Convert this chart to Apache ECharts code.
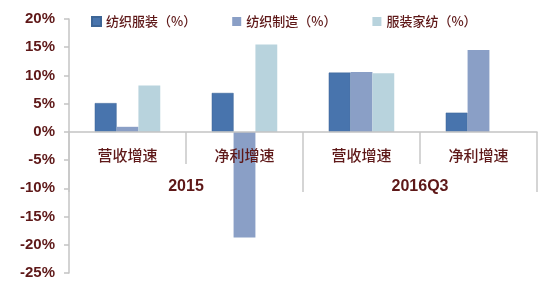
<!DOCTYPE html>
<html>
<head>
<meta charset="utf-8">
<script src="https://cdn.jsdelivr.net/npm/echarts@6/dist/echarts.min.js"></script>
<style>html,body{margin:0;padding:0;background:#fff}#c{width:555px;height:289px}</style>
</head>
<body>
<div id="c"></div>
<script>
var categories = ['营收增速', '净利增速', '营收增速', '净利增速'];
var groups = ['2015', '2016Q3'];
var seriesNames = ['纺织服装（%）', '纺织制造（%）', '服装家纺（%）'];
var textileApparel = [5.1, 6.9, 10.5, 3.4];
var textileMfg = [0.9, -18.7, 10.6, 14.5];
var homeTextile = [8.2, 15.5, 10.4, null];
var yMin = -25, yMax = 20, yStep = 5;

var txt = '#5e1818';
var cjk = '"Noto Sans CJK SC", sans-serif';
var gridTop = 19, gridBottom = 16, H = 289;
var plotH = H - gridTop - gridBottom;
var zeroOffset = -Math.round(plotH * (0 - yMin) / (yMax - yMin));
var chart = echarts.init(document.getElementById('c'), null, {renderer: 'canvas'});
chart.setOption({
  animation: false,
  color: ['#4874ad', '#8a9fc6', '#b8d3dd'],
  legend: {
    left: 86, top: 10,
    itemWidth: 9, itemHeight: 9, itemGap: 36,
    icon: 'rect',
    textStyle: {fontSize: 13, color: txt, fontFamily: cjk, fontWeight: 500},
    data: seriesNames
  },
  grid: {left: 69, right: 18, top: gridTop, bottom: gridBottom, containLabel: false},
  xAxis: [{
    type: 'category',
    data: categories,
    position: 'bottom',
    offset: zeroOffset,
    z: 5,
    axisLine: {onZero: false, lineStyle: {color: '#c4c4c4', width: 1.5}},
    axisTick: {show: true, interval: 0, length: 32, lineStyle: {color: '#c8c8c8', width: 1.5}},
    axisLabel: {interval: 0, margin: 16, fontSize: 15, fontWeight: 500, color: txt, fontFamily: cjk}
  }, {
    type: 'category',
    data: groups,
    position: 'bottom',
    offset: zeroOffset,
    z: 5,
    axisLine: {show: false, onZero: false},
    axisTick: {show: true, interval: 0, length: 60, lineStyle: {color: '#c8c8c8', width: 1.5}},
    axisLabel: {interval: 0, margin: 47, fontSize: 16, fontWeight: 'bold', color: txt, fontFamily: 'Liberation Sans, Arial, sans-serif'}
  }],
  yAxis: {
    type: 'value',
    min: yMin, max: yMax, interval: yStep,
    axisLine: {show: true, lineStyle: {color: '#c4c4c4', width: 1.5}},
    axisTick: {show: true, length: 5, lineStyle: {color: '#c4c4c4', width: 1.5}},
    splitLine: {show: false},
    axisLabel: {formatter: '{value}%', margin: 14, fontSize: 15, fontWeight: 'bold', color: txt, fontFamily: 'Liberation Sans, Arial, sans-serif'}
  },
  series: [
    {name: seriesNames[0], type: 'bar', data: textileApparel, barGap: '0%', barCategoryGap: '44%', itemStyle: {borderColor: '#3d6596', borderWidth: 0.5}},
    {name: seriesNames[1], type: 'bar', data: textileMfg, barGap: '0%', barCategoryGap: '44%'},
    {name: seriesNames[2], type: 'bar', data: homeTextile, barGap: '0%', barCategoryGap: '44%'}
  ]
});
</script>
</body>
</html>
